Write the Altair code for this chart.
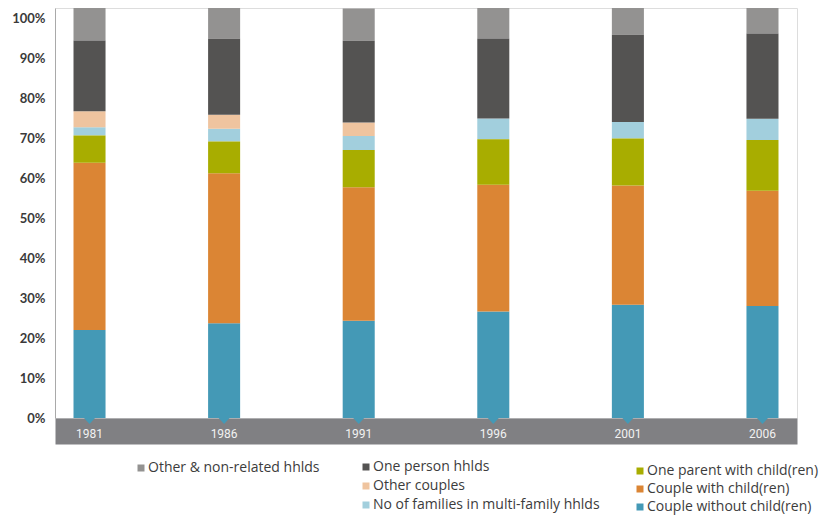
import altair as alt
import pandas as pd

years = ["1981", "1986", "1991", "1996", "2001", "2006"]
categories = [
    "Couple without child(ren)",
    "Couple with child(ren)",
    "One parent with child(ren)",
    "No of families in multi-family hhlds",
    "Other couples",
    "One person hhlds",
    "Other & non-related hhlds",
]
couple_without = [22.0, 23.7, 24.3, 26.6, 28.3, 28.0]
couple_with = [41.8, 37.5, 33.4, 31.7, 29.8, 28.8]
one_parent = [6.8, 7.9, 9.3, 11.4, 11.8, 12.7]
multi_family = [2.1, 3.2, 3.5, 5.2, 4.1, 5.3]
other_couples = [4.0, 3.5, 3.4, 0.0, 0.0, 0.0]
one_person = [17.7, 19.0, 20.4, 20.0, 21.8, 21.3]
other_nonrel = [8.3, 7.9, 8.1, 7.7, 7.0, 6.6]
colors = ["#4499b6", "#db8534", "#a8ad00", "#a2cfdd", "#efc49f", "#545352", "#939291"]
y_ticks = [0, 10, 20, 30, 40, 50, 60, 70, 80, 90, 100]

series = [couple_without, couple_with, one_parent, multi_family,
          other_couples, one_person, other_nonrel]
rows = []
for i, (cat, vals) in enumerate(zip(categories, series)):
    for yr, v in zip(years, vals):
        rows.append({"year": yr, "category": cat, "value": v, "order": i})
df = pd.DataFrame(rows)
color_of = dict(zip(categories, colors))

legend_groups = [
    (["Other & non-related hhlds"], 79, 453, 5),
    (["One person hhlds", "Other couples", "No of families in multi-family hhlds"], 304, 452, 5),
    (["One parent with child(ren)", "Couple with child(ren)", "Couple without child(ren)"], 578, 456, 4),
]

x_enc = alt.X(
    "year:N",
    scale=alt.Scale(domain=years, paddingInner=0.762, paddingOuter=0.1375),
    axis=alt.Axis(
        title=None, labels=False, ticks=False, tickSize=0,
        domainColor="#808083", domainWidth=26, offset=13,
    ),
)
y_scale = alt.Scale(domain=[0, 102.5], nice=False)
y_axis = alt.Axis(
    title=None, values=y_ticks, ticks=False, tickSize=0, grid=False,
    domainColor="#a9a9a9", domainWidth=1,
    labelExpr="datum.value + '%'", labelColor="#3a3a3a",
    labelFont="Lato", labelFontSize=13, labelFontWeight="bold", labelPadding=10,
)

layers = []
for cats, lx, ly, rp in legend_groups:
    layer = (
        alt.Chart(df)
        .transform_stack(stack="value", groupby=["year"], as_=["y0", "y1"],
                         sort=[alt.SortField("order", order="ascending")])
        .transform_filter(alt.FieldOneOfPredicate(field="category", oneOf=cats))
        .mark_bar()
        .encode(
            x=x_enc,
            y=alt.Y("y0:Q", scale=y_scale, axis=y_axis),
            y2="y1:Q",
            color=alt.Color(
                "category:N",
                scale=alt.Scale(domain=cats, range=[color_of[c] for c in cats]),
                legend=alt.Legend(
                    orient="none", legendX=lx, legendY=ly, title=None,
                    symbolType="square", symbolSize=49, symbolStrokeWidth=0,
                    symbolOpacity=1, labelFont="Open Sans", labelFontSize=14,
                    labelColor="#3c3c3c", labelOffset=0, rowPadding=rp,
                    padding=0, labelLimit=400,
                ),
            ),
        )
    )
    layers.append(layer)

year_df = pd.DataFrame({"year": years})
tri = (
    alt.Chart(year_df)
    .mark_point(shape="M-1,0L1,0L0,1.1Z", filled=True, size=121,
                color=colors[0], opacity=1, strokeWidth=0)
    .encode(
        x=x_enc,
        y=alt.Y(datum=0, type="quantitative", scale=y_scale, axis=y_axis),
    )
)
labels = (
    alt.Chart(year_df)
    .mark_text(font="Roboto", fontSize=12, color="#f2f2f2",
               baseline="middle", align="center", dy=16)
    .encode(
        x=x_enc,
        y=alt.Y(datum=0, type="quantitative", scale=y_scale, axis=y_axis),
        text="year:N",
    )
)
layers += [tri, labels]

chart = (
    alt.layer(*layers)
    .resolve_scale(color="independent")
    .properties(
        width=742, height=410,
        autosize=alt.AutoSizeParams(type="none"),
        padding={"left": 47, "top": 0, "right": 26, "bottom": 100},
    )
    .configure_view(stroke=None)
    .configure(background="white")
)

chart.save("out.html", embed_options={"renderer": "svg", "actions": False})
